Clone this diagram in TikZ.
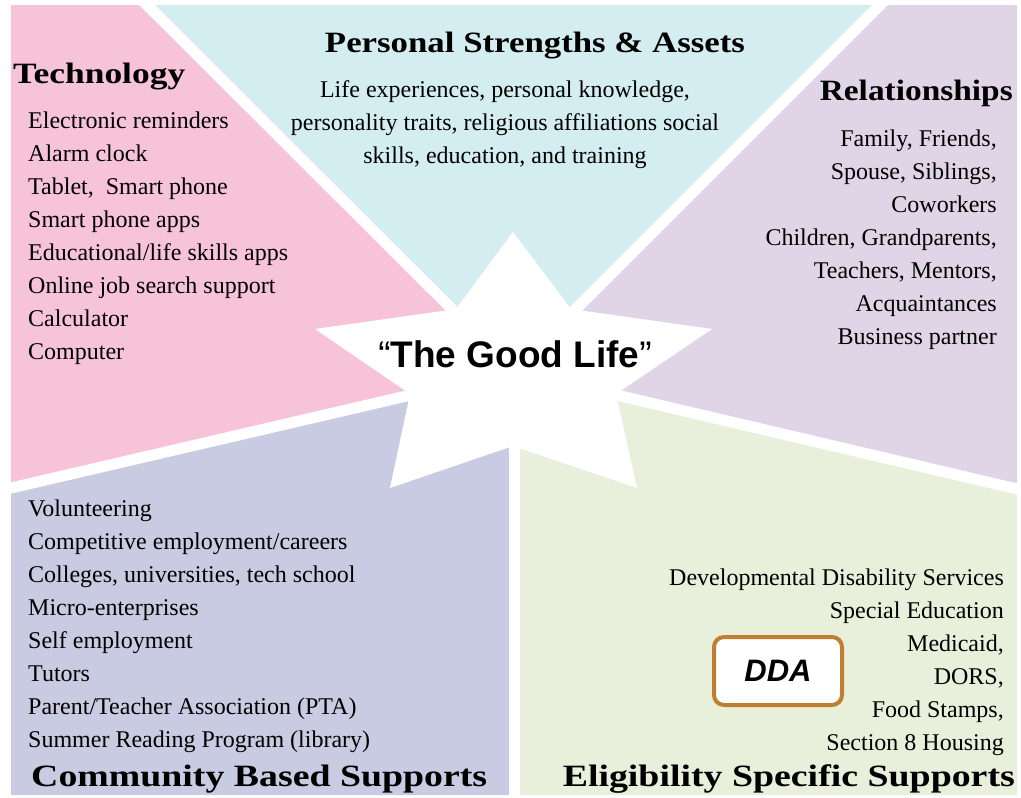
\documentclass[tikz,border=0pt]{standalone}
\usepackage{fontspec}
\setmainfont{Liberation Serif}
\newfontfamily\sansf{Liberation Sans}
\usetikzlibrary{calc}
\definecolor{cpink}{RGB}{247,195,216}
\definecolor{cteal}{RGB}{212,237,241}
\definecolor{clav}{RGB}{224,213,231}
\definecolor{cblue}{RGB}{200,203,225}
\definecolor{cgreen}{RGB}{232,240,219}
\definecolor{cdda}{RGB}{192,127,48}
\newcommand{\wfit}[2]{\resizebox{#1}{\height}{#2}}
\tikzset{
  gap/.style={draw=white, line width=11pt},
  item/.style={inner sep=0pt, font=\fontsize{24}{33}\selectfont},
  head/.style={inner sep=0pt, font=\bfseries\fontsize{29.5}{36}\selectfont},
  bighead/.style={inner sep=0pt, font=\bfseries\fontsize{31}{36}\selectfont},
}
\begin{document}
\begin{tikzpicture}[x=1pt,y=-1pt]
\useasboundingbox (0,0) rectangle (1021,798);
\fill[white] (0,0) rectangle (1021,798);
% frame corners and spokes
\coordinate (C) at (514,371);
\coordinate (TL) at (11,5);
\coordinate (TR) at (1017,5);
\coordinate (BL) at (11,795);
\coordinate (BR) at (1017,795);
\coordinate (ul) at (147,5);
\coordinate (ur) at (880,5);
\coordinate (ll) at (11,488);
\coordinate (lr) at (1017,489);
\coordinate (bm) at (514,795);
% regions
\fill[cpink] (C) -- (ul) -- (TL) -- (ll) -- cycle;
\fill[cteal] (C) -- (ul) -- (ur) -- cycle;
\fill[clav] (C) -- (ur) -- (TR) -- (lr) -- cycle;
\fill[cgreen] (C) -- (lr) -- (BR) -- (bm) -- cycle;
\fill[cblue] (C) -- (bm) -- (BL) -- (ll) -- cycle;
% white separating strips
\draw[gap] (C) -- ($(C)!1.04!(ul)$);
\draw[gap] (C) -- ($(C)!1.04!(ur)$);
\draw[gap] (C) -- ($(C)!1.03!(ll)$);
\draw[gap] (C) -- ($(C)!1.03!(lr)$);
\draw[gap] (C) -- ($(C)!1.03!(bm)$);
% star
\fill[white] (513,232) -- (571,309) -- (712,329) -- (616,394) -- (637,488)
  -- (513,446) -- (390,488) -- (410,394) -- (315,329) -- (456,309) -- cycle;
\node[inner sep=0pt, anchor=base, font=\sansf\fontsize{37}{40}\selectfont] (good) at (515,367)
  {“{\bfseries The Good Life}”};
% Technology
\node[head, anchor=base west] (techH) at (13,83) {\wfit{172pt}{Technology}};
\foreach \t [count=\i] in {Electronic reminders, Alarm clock, {Tablet,\ \ Smart phone},
  Smart phone apps, Educational/life skills apps, Online job search support,
  Calculator, Computer}
  \node[item, anchor=base west] (tech\i) at (28,{128+33*(\i-1)}) {\t};
% Personal strengths
\node[head, anchor=base] (persH) at (535,52) {\wfit{420pt}{Personal Strengths \& Assets}};
\foreach \t [count=\i] in {{Life experiences, personal knowledge,},
  {personality traits, religious affiliations social},
  {skills, education, and training}}
  \node[item, anchor=base] (pers\i) at (505,{97+33*(\i-1)}) {\t};
% Relationships
\node[head, anchor=base east] (relH) at (1013,100) {\wfit{193pt}{Relationships}};
\foreach \t [count=\i] in {{Family, Friends,}, {Spouse, Siblings,}, Coworkers,
  {Children, Grandparents,}, {Teachers, Mentors,}, Acquaintances, Business partner}
  \node[item, anchor=base east] (rel\i) at (997,{146+33*(\i-1)}) {\t};
% Community
\foreach \t [count=\i] in {Volunteering, Competitive employment/careers,
  {Colleges, universities, tech school}, Micro-enterprises, Self employment, Tutors,
  Parent/Teacher Association (PTA), Summer Reading Program (library)}
  \node[item, anchor=base west] (comm\i) at (28,{516+33*(\i-1)}) {\t};
\node[bighead, anchor=base west] (commH) at (31,786) {\wfit{456pt}{Community Based Supports}};
% Eligibility
\foreach \t [count=\i] in {Developmental Disability Services, Special Education,
  {Medicaid,}, {DORS,}, {Food Stamps,}, Section 8 Housing}
  \node[item, anchor=base east] (elig\i) at (1004,{585+33*(\i-1)}) {\t};
\node[bighead, anchor=base east] (eligH) at (1015,786) {\wfit{452pt}{Eligibility Specific Supports}};
% DDA
\node[draw=cdda, line width=4pt, fill=white, rounded corners=10pt,
  minimum width=128pt, minimum height=68pt, inner sep=0pt,
  font=\sansf\bfseries\itshape\fontsize{31}{33}\selectfont] (dda) at (778,671) {DDA};
\end{tikzpicture}
\end{document}
